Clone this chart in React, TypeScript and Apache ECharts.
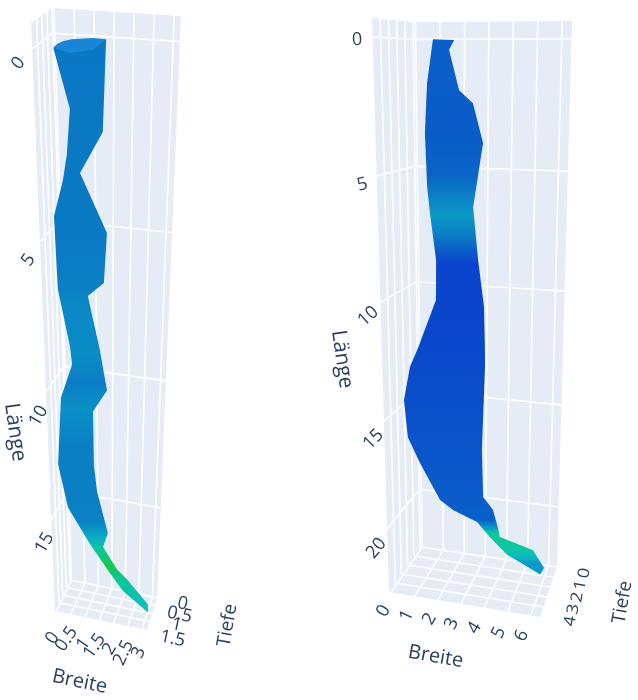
import React, { useEffect, useRef } from "react";
import * as echarts from "echarts";

// ---------- data ----------
const leftLengthTicks = [0, 5, 10, 15];
const leftWidthTicks = [0, 0.5, 1, 1.5, 2, 2.5, 3];
const leftDepthTicks = [0, 0.5, 1, 1.5];
const leftEdgeA_L = [0.39, 1.98, 3.2, 3.92, 4.89, 7.35, 9.29, 9.88, 11.28, 13.97, 15.65, 16.97, 17.99, 18.6, 19.25];
const leftEdgeA_B = [-0.05, 0.34, 0.23, 0.1, -0.18, -0.14, 0.18, 0.23, -0.16, -0.33, -0.04, 0.71, 1.43, 1.91, 2.86];
const rightEdgeA_L = [0.07, 2.53, 3.67, 5.25, 6.96, 7.47, 9.25, 10.71, 11.63, 13.79, 14.8, 16.39, 16.99, 17.78, 18.1, 18.92];
const rightEdgeA_B = [1.3, 1.21, 0.58, 1.32, 1.23, 0.75, 1.1, 1.32, 0.87, 0.88, 0.98, 1.35, 1.18, 1.68, 2.05, 2.84];
const capA_L = [0.39, 0.28, 0.2, 0.13, 0.1, 0.06, 0.07, 0.37, 0.5];
const capA_B = [-0.05, 0.05, 0.2, 0.42, 0.64, 0.95, 1.3, 0.97, 0.375];
const depthA_L = [0.4, 2, 3.9, 5, 7, 8, 9.5, 10.5, 11.5, 13, 15, 16, 16.7, 17.1, 17.8, 18.4, 19.2];
const depthA = [1.02, 1.0, 1.0, 1.0, 0.95, 0.85, 0.82, 0.97, 0.78, 0.95, 0.95, 0.92, 0.55, 0.27, 0.02, 0.25, 0.4];

const rightLengthTicks = [0, 5, 10, 15, 20];
const rightWidthTicks = [0, 1, 2, 3, 4, 5, 6];
const rightDepthTicks = [0, 1, 2, 3, 4];
const leftEdgeB_L = [0, 1.71, 3.68, 5.86, 6.99, 9.02, 10.77, 13.02, 13.9, 15.53, 17.41, 18.66, 20.42, 20.85, 21.3, 21.97, 22.75, 23.2, 23.5];
const leftEdgeB_B = [0.71, 0.45, 0.34, 0.41, 0.52, 0.77, 0.75, -0.07, -0.44, -0.74, -0.59, -0.05, 0.87, 1.47, 2.6, 3.2, 4.03, 4.98, 5.61];
const rightEdgeB_L = [0.03, 0.41, 1.98, 2.48, 4.01, 6.66, 8.9, 10.94, 12.76, 13.61, 17.62, 19.98, 20.57, 21.45, 21.9, 22.16, 22.33, 23.14, 23.5];
const rightEdgeB_B = [1.58, 1.37, 1.78, 2.36, 2.79, 2.38, 2.6, 2.87, 2.92, 2.93, 2.81, 2.88, 3.34, 3.58, 3.68, 4.63, 5.25, 5.79, 5.61];
const depthB_L = [0, 3.7, 5.3, 6.2, 7.05, 7.9, 9.1, 13, 19, 21.3, 21.7, 22, 22.3, 22.8, 23.2, 23.5];
const depthB = [3.3, 3.4, 3.2, 2.5, 1.8, 2.6, 4.0, 3.9, 3.5, 3.3, 1.8, 0.7, 0.65, 0.75, 1.2, 1.8];

// ---------- layout of the two projected scenes ----------
const colorStops: [number, string][] = [
  [0, "#12c84a"], [0.18, "#0cc8a0"], [0.32, "#0ab8c4"], [0.45, "#0a9ac8"],
  [0.65, "#0a7cc4"], [0.85, "#0a5cc8"], [1, "#0a44cc"],
];
const X_MIN = -2, X_MAX = 8, Y_MIN = -2, Y_MAX = 26, W = 638, H = 700;
type P = [number, number];
const lerp = (a: number, b: number, f: number) => a + (b - a) * f;
const lerpP = (a: P, b: P, f: number): P => [lerp(a[0], b[0], f), lerp(a[1], b[1], f)];

const scenes = [
  {
    bRange: [-0.05, 3.17], tRange: [0, 2.05], tMax: 1.5, depthSquash: 1,
    knotsL: [-0.67, 0, 5, 10, 15, 18.6], knotsT: [0, 0.044, 0.372, 0.627, 0.845, 1],
    TL: [52, 8] as P, TR: [181, 16] as P, BL: [70, 580] as P, BR: [157, 598] as P,
    FT: [31, 23] as P, FB: [55, 611] as P, FR: [147, 630] as P,
    lengthTicks: leftLengthTicks, widthTicks: leftWidthTicks, depthTicks: leftDepthTicks,
    edgeLL: leftEdgeA_L, edgeLB: leftEdgeA_B, edgeRL: rightEdgeA_L, edgeRB: rightEdgeA_B,
    capL: capA_L, capB: capA_B, depthL: depthA_L, depth: depthA,
    lengthLabels: [[17, 62, 50], [27, 259, 55], [37, 415, 60], [43, 542, 60]],
    widthLabels: [[51, 637, 55], [65, 638, 55], [82, 643, 55], [93, 645, 55], [108, 648, 60], [122, 652, 65], [137, 652, 65]],
    depthLabels: [[183, 602, -12], [180, 613, -12], [177, 623, -12], [173, 637, -12]],
    titleLength: [17, 432, -82], titleWidth: [80, 680, -12], titleDepth: [226, 625, 80],
  },
  {
    bRange: [-0.1, 6.4], tRange: [0, 5], tMax: 4, depthSquash: 0.88,
    knotsL: [-0.68, 0, 5, 10, 15, 20, 23], knotsT: [0, 0.033, 0.275, 0.495, 0.703, 0.89, 1],
    TL: [413, 22] as P, TR: [572, 21] as P, BL: [420, 547] as P, BR: [557, 567] as P,
    FT: [372, 18] as P, FB: [389, 592] as P, FR: [540, 617] as P,
    lengthTicks: rightLengthTicks, widthTicks: rightWidthTicks, depthTicks: rightDepthTicks,
    edgeLL: leftEdgeB_L, edgeLB: leftEdgeB_B, edgeRL: rightEdgeB_L, edgeRB: rightEdgeB_B,
    capL: [] as number[], capB: [] as number[], depthL: depthB_L, depth: depthB,
    lengthLabels: [[357, 38, 3], [362, 183, 15], [367, 315, 42], [372, 438, 45], [375, 547, 50]],
    widthLabels: [[382, 610, 60], [405, 615, 65], [428, 618, 60], [450, 623, 65], [473, 627, 60], [497, 632, 65], [520, 635, 65]],
    depthLabels: [[583, 573, 80], [579, 585, 80], [576, 597, 80], [572, 609, 80], [569, 621, 80]],
    titleLength: [344, 359, -82], titleWidth: [436, 655, -10], titleDepth: [621, 602, 80],
  },
];
type Scene = (typeof scenes)[number];

function tOf(s: Scene, L: number) {
  const k = s.knotsL, v = s.knotsT;
  let i = 0;
  while (i < k.length - 2 && L > k[i + 1]) i++;
  return v[i] + ((L - k[i]) / (k[i + 1] - k[i])) * (v[i + 1] - v[i]);
}
// pixel from the hidden axes -> Breite/Länge
function unscale(p: number[]) {
  return [X_MIN + (p[0] / W) * (X_MAX - X_MIN), Y_MIN + (p[1] / H) * (Y_MAX - Y_MIN)];
}
function wallPoint(s: Scene, api: any, b: number, L: number): P {
  const [bb, ll] = unscale(api.coord([b, L]));
  const u = (bb - s.bRange[0]) / (s.bRange[1] - s.bRange[0]);
  const t = tOf(s, ll);
  return lerpP(lerpP(s.TL, s.BL, t), lerpP(s.TR, s.BR, t), u);
}
function sidePoint(s: Scene, api: any, T: number, L: number): P {
  const [, ll] = unscale(api.coord([0, L]));
  const t = tOf(s, ll);
  const w = (T - s.tRange[0]) / (s.tRange[1] - s.tRange[0]);
  return lerpP(lerpP(s.TL, s.BL, t), lerpP(s.FT, s.FB, t), w);
}
function floorPoint(s: Scene, api: any, b: number, T: number): P {
  const [bb] = unscale(api.coord([b, 0]));
  const u = (bb - s.bRange[0]) / (s.bRange[1] - s.bRange[0]);
  const w = (T - s.tRange[0]) / (s.tRange[1] - s.tRange[0]);
  return lerpP(lerpP(s.BL, s.BR, u), lerpP(s.FB, s.FR, u), w);
}
function depthColor(f: number) {
  const x = Math.max(0, Math.min(1, f));
  let i = 0;
  while (i < colorStops.length - 2 && x > colorStops[i + 1][0]) i++;
  const [a, ca] = colorStops[i], [b, cb] = colorStops[i + 1];
  return echarts.color.lerp((x - a) / (b - a), [ca, cb]) as string;
}

const WALL = "#e5ecf6", GRID = "#ffffff", LW = 1.6;
const seg = (a: P, b: P) => ({
  type: "line",
  shape: { x1: a[0], y1: a[1], x2: b[0], y2: b[1] },
  style: { stroke: GRID, lineWidth: LW },
});
const face = (pts: P[]) => ({ type: "polygon", shape: { points: pts }, style: { fill: WALL } });

function boxItem(s: Scene, api: any) {
  const L0 = s.knotsL[0], L1 = s.knotsL[s.knotsL.length - 1];
  const children: any[] = [
    face([s.TL, s.TR, s.BR, s.BL]),
    face([s.TL, s.FT, s.FB, s.BL]),
    face([s.BL, s.BR, s.FR, s.FB]),
  ];
  for (const b of s.widthTicks) {
    children.push(seg(wallPoint(s, api, b, L0), wallPoint(s, api, b, L1)));
    children.push(seg(floorPoint(s, api, b, s.tRange[0]), floorPoint(s, api, b, s.tRange[1])));
  }
  for (const L of s.lengthTicks) {
    children.push(seg(wallPoint(s, api, s.bRange[0], L), wallPoint(s, api, s.bRange[1], L)));
    children.push(seg(sidePoint(s, api, s.tRange[0], L), sidePoint(s, api, s.tRange[1], L)));
  }
  for (const T of s.depthTicks) {
    children.push(seg(sidePoint(s, api, T, L0), sidePoint(s, api, T, L1)));
    children.push(seg(floorPoint(s, api, s.bRange[0], T), floorPoint(s, api, s.bRange[1], T)));
  }
  return { type: "group", children };
}

function surfaceItem(s: Scene, api: any) {
  const left = s.edgeLL.map((L, i) => wallPoint(s, api, s.edgeLB[i], L));
  const right = s.edgeRL.map((L, i) => wallPoint(s, api, s.edgeRB[i], L));
  const ys = s.depthL.map((L) => wallPoint(s, api, s.bRange[0] + 0.3 * (s.bRange[1] - s.bRange[0]), L)[1]);
  const y0 = ys[0], y1 = ys[ys.length - 1];
  const stops = s.depth.map((d, i) => ({ offset: (ys[i] - y0) / (y1 - y0), color: depthColor(d / s.tMax) }));
  const fill = new echarts.graphic.LinearGradient(0, y0, 0, y1, stops, true);
  const children: any[] = [
    { type: "polygon", shape: { points: [...left, ...right.reverse()] }, style: { fill, stroke: "none" } },
  ];
  if (s.capL.length) {
    children.push({
      type: "polygon",
      shape: { points: s.capL.map((L, i) => wallPoint(s, api, s.capB[i], L)) },
      style: { fill: "#1a84d6" },
    });
  }
  return { type: "group", children };
}

const FONT = '"Open Sans", sans-serif';
const TXT = "#2a3f5f";
function label(text: string, pos: number[], size: number, squash = 1) {
  return {
    type: "text",
    x: pos[0],
    y: pos[1],
    rotation: (pos[2] * Math.PI) / 180,
    scaleY: squash,
    silent: true,
    style: { text, fill: TXT, font: `${size}px ${FONT}`, align: "center", verticalAlign: "middle" },
  };
}

export default function App() {
  const ref = useRef<HTMLDivElement>(null);
  useEffect(() => {
    const chart = echarts.init(ref.current!, null, { renderer: "svg" });
    const graphic: any[] = [];
    scenes.forEach((s) => {
      s.lengthTicks.forEach((v, i) => graphic.push(label(String(v), s.lengthLabels[i], 18)));
      s.widthTicks.forEach((v, i) => graphic.push(label(String(v), s.widthLabels[i], 18)));
      s.depthTicks.forEach((v, i) => graphic.push(label(String(v), s.depthLabels[i], 18, s.depthSquash)));
      graphic.push(label("Länge", s.titleLength, 21));
      graphic.push(label("Breite", s.titleWidth, 20));
      graphic.push(label("Tiefe", s.titleDepth, 19));
    });
    const axisBase = { type: "value", show: false, scale: false };
    const series: any[] = [];
    scenes.forEach((s, idx) => {
      series.push({
        type: "custom", name: `Raster ${idx + 1}`, coordinateSystem: "cartesian2d",
        xAxisIndex: idx, yAxisIndex: idx, clip: false, silent: true, z: 1,
        data: [[s.widthTicks[0], s.lengthTicks[0]]],
        renderItem: (_: any, api: any) => boxItem(s, api),
      });
      series.push({
        type: "custom", name: `Fläche ${idx + 1}`, coordinateSystem: "cartesian2d",
        xAxisIndex: idx, yAxisIndex: idx, clip: false, silent: true, z: 2,
        data: [[s.edgeLB[0], s.edgeLL[0]]],
        renderItem: (_: any, api: any) => surfaceItem(s, api),
      });
    });
    const rect = { left: 0, top: 0, width: W, height: H, containLabel: false };
    chart.setOption({
      animation: false,
      backgroundColor: "#ffffff",
      grid: [rect, rect],
      xAxis: [0, 1].map((gridIndex) => ({ ...axisBase, gridIndex, min: X_MIN, max: X_MAX })),
      yAxis: [0, 1].map((gridIndex) => ({ ...axisBase, gridIndex, min: Y_MIN, max: Y_MAX, inverse: true })),
      series,
      graphic,
    });
    return () => chart.dispose();
  }, []);
  return <div ref={ref} style={{ position: "absolute", left: 0, top: 0, width: W, height: H, filter: "blur(0.5px)" }} />;
}
